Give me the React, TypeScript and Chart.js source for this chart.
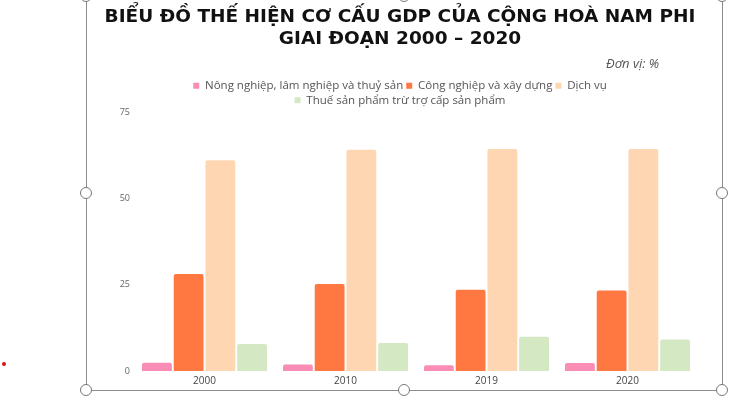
import React, { useEffect, useRef } from "react";
import { Chart, registerables } from "chart.js";

Chart.register(...registerables);

const categories = ["2000", "2010", "2019", "2020"];
const seriesNames = [
  "Nông nghiệp, lâm nghiệp và thuỷ sản",
  "Công nghiệp và xây dựng",
  "Dịch vụ",
  "Thuế sản phẩm trừ trợ cấp sản phẩm",
];
const agriculture = [2.4, 1.9, 1.7, 2.3];
const industry = [28.1, 25.2, 23.5, 23.3];
const services = [61.0, 64.1, 64.3, 64.3];
const taxes = [7.8, 8.1, 9.9, 9.1];
const yTicks = [0, 25, 50, 75];
const titleLines = ["BIỂU ĐỒ THẾ HIỆN CƠ CẤU GDP CỦA CỘNG HOÀ NAM PHI", "GIAI ĐOẠN 2000 – 2020"];
const unitLabel = "Đơn vị: %";

const colors = ["#F98DB6", "#FF7842", "#FFD6B2", "#D3E8C3"];

const legendTrim = {
  id: "legendTrim",
  beforeInit(chart: any) {
    const lg = chart.legend;
    if (!lg) return;
    const orig = lg.fit;
    lg.fit = function () {
      orig.call(this);
      this.height -= 4;
    };
  },
};

export default function App() {
  const ref = useRef<HTMLCanvasElement | null>(null);

  useEffect(() => {
    if (!ref.current) return;
    const values = [agriculture, industry, services, taxes];
    const chart = new Chart(ref.current, {
      type: "bar",
      data: {
        labels: categories,
        datasets: seriesNames.map((name, i) => ({
          label: name,
          data: values[i],
          backgroundColor: colors[i],
          borderWidth: 0,
          borderRadius: 2,
          categoryPercentage: 0.9,
          barPercentage: 0.94,
        })),
      },
      plugins: [legendTrim],
      options: {
        responsive: false,
        animation: false,
        layout: { padding: { left: 16, right: 24, top: 0, bottom: 0 } },
        plugins: {
          tooltip: { enabled: false },
          title: {
            display: true,
            text: titleLines,
            color: "#111",
            font: { family: "DejaVu Sans", size: 18.5, weight: "bold", lineHeight: 1.2 },
            padding: { top: 6, bottom: 26.6 },
          },
          legend: {
            display: true,
            position: "top",
            labels: {
              boxWidth: 6,
              boxHeight: 6,
              padding: 3,
              color: "#555",
              font: { family: "Open Sans", size: 11.5 },
            },
          },
        },
        scales: {
          x: {
            grid: { display: false, drawTicks: false },
            border: { display: false },
            ticks: { color: "#444", padding: 4, font: { family: "Open Sans", size: 10 } },
          },
          y: {
            min: 0,
            max: 75,
            afterFit: (s: any) => {
              s.width = 32;
            },
            afterBuildTicks: (s: any) => {
              s.ticks = yTicks.map((v) => ({ value: v }));
            },
            grid: { display: false, drawTicks: false },
            border: { display: false },
            ticks: { color: "#666", padding: 4, font: { family: "Open Sans", size: 9 } },
          },
        },
      },
    });
    return () => chart.destroy();
  }, []);

  const handles = [
    [86, -4], [404, -4], [722, -4],
    [86, 193], [722, 193],
    [86, 390], [404, 390], [722, 390],
  ];

  return (
    <div
      style={{
        position: "fixed",
        left: 0,
        top: 0,
        width: 730,
        height: 400,
        background: "#fff",
        overflow: "hidden",
      }}
    >
      <div
        style={{
          position: "absolute",
          left: 86,
          top: -4,
          width: 637,
          height: 395,
          border: "1px solid #8c8c8c",
          boxSizing: "border-box",
        }}
      />
      <canvas
        ref={ref}
        width={636}
        height={391}
        style={{ position: "absolute", left: 86, top: 0, width: 636, height: 391 }}
      />
      <div
        style={{
          position: "absolute",
          left: 606,
          top: 54,
          fontFamily: "Open Sans",
          fontStyle: "italic",
          fontSize: 13,
          color: "#555",
          whiteSpace: "nowrap",
        }}
      >
        {unitLabel}
      </div>
      {handles.map(([x, y], i) => (
        <div
          key={i}
          style={{
            position: "absolute",
            left: x - 6,
            top: y - 6,
            width: 12,
            height: 12,
            borderRadius: "50%",
            background: "#fff",
            border: "1px solid #777",
            boxSizing: "border-box",
          }}
        />
      ))}
      <div
        style={{
          position: "absolute",
          left: 2,
          top: 362,
          width: 4,
          height: 4,
          borderRadius: "50%",
          background: "#d11",
        }}
      />
    </div>
  );
}
